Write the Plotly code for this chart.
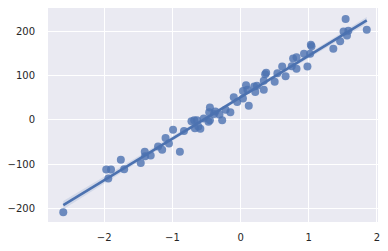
import numpy as np
import plotly.graph_objects as go

x_vals = [-2.60, -1.97, -1.90, -1.94, -1.756, -1.707, -1.464, -1.405, -1.40, -1.318,
          -1.21, -1.15, -1.10, -1.05, -0.99, -0.89, -0.83, -0.72, -0.67, -0.64,
          -0.59, -0.54, -0.47, -0.45, -0.46, -0.45, -0.39, -0.37, -0.31, -0.27,
          -0.22, -0.15, -0.10, -0.05, 0.035, 0.035, 0.08, 0.10, 0.12, 0.20,
          0.215, 0.24, 0.34, 0.36, 0.375, 0.34, 0.50, 0.54, 0.61, 0.66,
          0.75, 0.77, 0.82, 0.82, 0.93, 0.98, 1.02, 1.03, 1.04, 1.36,
          1.46, 1.51, 1.54, 1.56, 1.58, 1.85, -0.68, -0.62]
y_vals = [-208, -112, -112, -132, -90, -111, -97, -72, -82, -80,
          -60, -67, -41, -53, -22, -72, -25, -3, -19, -1,
          -20, 3, -4, 28, 17, -1, 13, 19, 12, -1,
          23, 17, 51, 40, 48, 65, 78, 68, 32, 75,
          63, 77, 88, 103, 106, 68, 86, 105, 120, 98,
          121, 138, 141, 115, 149, 120, 149, 169, 166, 160,
          177, 199, 227, 190, 201, 203, -1, -15]

x_ticks = [-2, -1, 0, 1, 2]
y_ticks = [-200, -100, 0, 100, 200]

x = np.array(x_vals, dtype=float)
y = np.array(y_vals, dtype=float)
slope, intercept = np.polyfit(x, y, 1)
xg = np.linspace(x.min(), x.max(), 100)
yg = slope * xg + intercept
n = len(x)
resid = y - (slope * x + intercept)
s = np.sqrt(np.sum(resid ** 2) / (n - 2))
se = s * np.sqrt(1 / n + (xg - x.mean()) ** 2 / np.sum((x - x.mean()) ** 2))
lo, hi = yg - 1.99 * se, yg + 1.99 * se

blue = "#4C72B0"
fig = go.Figure()
fig.add_trace(go.Scatter(x=np.concatenate([xg, xg[::-1]]), y=np.concatenate([hi, lo[::-1]]),
                         fill="toself", fillcolor="rgba(76,114,176,0.15)", line=dict(width=0),
                         mode="lines", hoverinfo="skip", showlegend=False))
fig.add_trace(go.Scatter(x=x, y=y, mode="markers",
                         marker=dict(color=blue, opacity=0.8, size=8, line=dict(width=0)),
                         showlegend=False))
fig.add_trace(go.Scatter(x=xg, y=yg, mode="lines", line=dict(color=blue, width=2.6),
                         showlegend=False))

font = dict(family="DejaVu Sans", size=10, color="#262626")
fig.update_layout(
    width=388, height=251,
    margin=dict(l=48, r=10, t=8, b=27, pad=0),
    paper_bgcolor="white", plot_bgcolor="#EAEAF2",
    font=font,
)
fig.update_xaxes(range=[-2.824, 2.015], tickvals=x_ticks, showgrid=True, gridcolor="white",
                 gridwidth=1, zeroline=False, showline=False, ticks="outside", ticklen=6,
                 tickcolor="rgba(0,0,0,0)", tickfont=font)
fig.update_yaxes(range=[-230, 252], tickvals=y_ticks, showgrid=True, gridcolor="white",
                 gridwidth=1, zeroline=False, showline=False, ticks="outside", ticklen=10,
                 tickcolor="rgba(0,0,0,0)", tickfont=font)
fig.write_html("out.html")
